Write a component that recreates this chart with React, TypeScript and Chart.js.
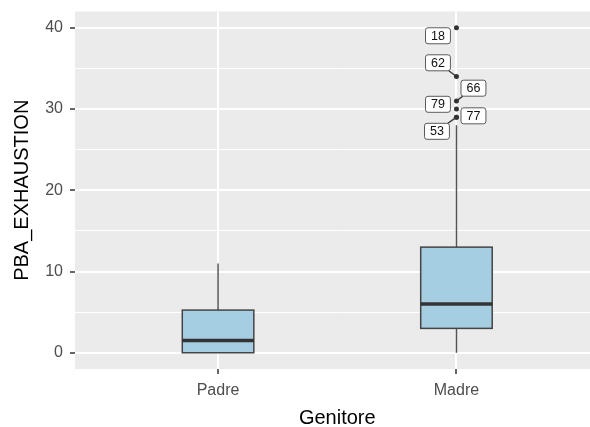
import React, { useEffect, useRef } from 'react';
import { Chart, registerables } from 'chart.js';

Chart.register(...registerables);

// ---- data ----
const categories = ['Padre', 'Madre'];
const whiskerLow = [0, 0];
const q1 = [0, 3];
const median = [1.5, 6];
const q3 = [5.25, 13];
const whiskerHigh = [11, 28];

const outlierGroup = [2, 2, 2, 2, 2, 2];
const outlierValues = [40, 34, 31, 30, 29, 29];
const outlierIds = ['18', '62', '66', '79', '77', '53'];

const yMajorTicks = [0, 10, 20, 30, 40];
const yMinorTicks = [5, 15, 25, 35];

// ---- style ----
const FONT = '"Liberation Sans", Arial, Helvetica, sans-serif';
const BOX_HALF_WIDTH = 0.15;
const labelOffsets: [number, number][] = [
  [-18.5, 8],
  [-18.5, -13.7],
  [17, -12.7],
  [-18.5, -4.7],
  [17, -1.3],
  [-19.5, 14.2],
];

const boxPlugin = {
  id: 'boxes',
  beforeDraw(chart: any) {
    const { ctx, chartArea } = chart;
    ctx.save();
    ctx.fillStyle = '#EBEBEB';
    ctx.fillRect(chartArea.left, chartArea.top, chartArea.right - chartArea.left, chartArea.bottom - chartArea.top);
    ctx.restore();
  },
  beforeDatasetsDraw(chart: any) {
    const { ctx, scales } = chart;
    const xs = scales.x;
    const ys = scales.y;
    ctx.save();
    categories.forEach((_, i) => {
      const xv = i + 1;
      const xc = xs.getPixelForValue(xv);
      const xl = xs.getPixelForValue(xv - BOX_HALF_WIDTH);
      const xr = xs.getPixelForValue(xv + BOX_HALF_WIDTH);
      const yq1 = ys.getPixelForValue(q1[i]);
      const yq3 = ys.getPixelForValue(q3[i]);
      const ymed = ys.getPixelForValue(median[i]);
      const ylo = ys.getPixelForValue(whiskerLow[i]);
      const yhi = ys.getPixelForValue(whiskerHigh[i]);
      // whiskers
      ctx.strokeStyle = '#555';
      ctx.lineWidth = 1.5;
      ctx.beginPath();
      ctx.moveTo(xc, yq3);
      ctx.lineTo(xc, yhi);
      ctx.moveTo(xc, yq1);
      ctx.lineTo(xc, ylo);
      ctx.stroke();
      // box
      ctx.fillStyle = '#A6CEE3';
      ctx.fillRect(xl, yq3, xr - xl, yq1 - yq3);
      ctx.strokeStyle = '#444';
      ctx.lineWidth = 1.5;
      ctx.strokeRect(xl, yq3, xr - xl, yq1 - yq3);
      // median
      ctx.strokeStyle = '#333';
      ctx.lineWidth = 3.5;
      ctx.beginPath();
      ctx.moveTo(xl, ymed);
      ctx.lineTo(xr, ymed);
      ctx.stroke();
    });
    ctx.restore();
  },
  afterDatasetsDraw(chart: any) {
    const { ctx, scales } = chart;
    const xs = scales.x;
    const ys = scales.y;
    const padX = 5.5;
    const h = 16;
    ctx.save();
    ctx.font = `12.5px ${FONT}`;
    const boxes = outlierValues.map((v, i) => {
      const px = xs.getPixelForValue(outlierGroup[i]);
      const py = ys.getPixelForValue(v);
      const [dx, dy] = labelOffsets[i];
      const cx = px + dx;
      const cy = py + dy;
      const w = ctx.measureText(outlierIds[i]).width + 2 * padX;
      return { px, py, cx, cy, w };
    });
    // segments
    boxes.forEach(({ px, py, cx, cy, w }) => {
      const ddx = px - cx;
      const ddy = py - cy;
      let s = Infinity;
      if (ddx !== 0) s = Math.min(s, w / 2 / Math.abs(ddx));
      if (ddy !== 0) s = Math.min(s, h / 2 / Math.abs(ddy));
      if (s < 1) {
        const ex = cx + ddx * s;
        const ey = cy + ddy * s;
        if (Math.hypot(px - ex, py - ey) > 7) {
          ctx.strokeStyle = '#333';
          ctx.lineWidth = 1.3;
          ctx.beginPath();
          ctx.moveTo(ex, ey);
          ctx.lineTo(px, py);
          ctx.stroke();
        }
      }
    });
    // labels
    boxes.forEach(({ cx, cy, w }, i) => {
      const l = cx - w / 2;
      const t = cy - h / 2;
      ctx.beginPath();
      ctx.roundRect(l, t, w, h, 2.5);
      ctx.fillStyle = '#fff';
      ctx.fill();
      ctx.strokeStyle = '#333';
      ctx.lineWidth = 0.8;
      ctx.stroke();
      ctx.fillStyle = '#111';
      ctx.textAlign = 'center';
      ctx.textBaseline = 'middle';
      ctx.fillText(outlierIds[i], cx, cy + 0.5);
    });
    ctx.restore();
  },
};

export default function App() {
  const ref = useRef<HTMLCanvasElement>(null);

  useEffect(() => {
    if (!ref.current) return;
    const isMajor = (v: number) => yMajorTicks.includes(v);
    const chart = new Chart(ref.current, {
      type: 'scatter',
      data: {
        datasets: [
          {
            data: outlierValues.map((v, i) => ({ x: outlierGroup[i], y: v })),
            pointRadius: 2.5,
            pointBackgroundColor: '#333',
            pointBorderWidth: 0,
            pointHoverRadius: 2.5,
          },
        ],
      },
      options: {
        responsive: false,
        animation: false,
        devicePixelRatio: 1,
        events: [],
        layout: { padding: { left: 0, right: 0, top: 11.5, bottom: 0 } },
        plugins: { legend: { display: false }, tooltip: { enabled: false } },
        scales: {
          x: {
            type: 'linear',
            min: 0.4,
            max: 2.6,
            afterBuildTicks: (s: any) => {
              s.ticks = categories.map((_, i) => ({ value: i + 1 }));
            },
            afterFit: (s: any) => {
              s.height = 58;
              s.paddingLeft = 0;
              s.paddingRight = 0;
            },
            ticks: {
              callback: (v: any) => categories[Number(v) - 1] ?? '',
              autoSkip: false,
              maxRotation: 0,
              color: '#4D4D4D',
              font: { size: 16, family: FONT },
              padding: 7,
            },
            grid: {
              color: '#ffffff',
              lineWidth: 2,
              tickColor: '#333',
              tickLength: 5,
              tickWidth: 1.5,
            },
            border: { display: false },
            title: {
              display: true,
              text: 'Genitore',
              color: '#000',
              font: { size: 20, family: FONT, lineHeight: 0.85 },
              padding: { top: 0, bottom: 0 },
            },
          },
          y: {
            type: 'linear',
            min: -2,
            max: 42,
            afterBuildTicks: (s: any) => {
              s.ticks = [...yMajorTicks, ...yMinorTicks].sort((a, b) => a - b).map((v) => ({ value: v }));
            },
            afterFit: (s: any) => {
              s.width = 75;
              s.paddingTop = 0;
              s.paddingBottom = 0;
            },
            ticks: {
              callback: (v: any) => (isMajor(Number(v)) ? String(v) : ''),
              autoSkip: false,
              color: '#4D4D4D',
              font: { size: 16, family: FONT },
              padding: 7,
            },
            grid: {
              color: '#ffffff',
              lineWidth: (c: any) => (isMajor(c.tick?.value) ? 2 : 1),
              tickColor: (c: any) => (isMajor(c.tick?.value) ? '#333' : 'rgba(0,0,0,0)'),
              tickLength: 5,
              tickWidth: 1.5,
            },
            border: { display: false },
            title: {
              display: true,
              text: 'PBA_EXHAUSTION',
              color: '#000',
              font: { size: 20, family: FONT, lineHeight: 1.2 },
              padding: { top: 10, bottom: 0 },
            },
          },
        },
      },
      plugins: [boxPlugin],
    });
    return () => chart.destroy();
  }, []);

  return (
    <div
      style={{
        position: 'fixed',
        left: 0,
        top: 0,
        width: 590,
        height: 427,
        overflow: 'hidden',
        background: '#fff',
      }}
    >
      <canvas ref={ref} width={602} height={427} style={{ display: 'block', width: 602, height: 427 }} />
    </div>
  );
}
